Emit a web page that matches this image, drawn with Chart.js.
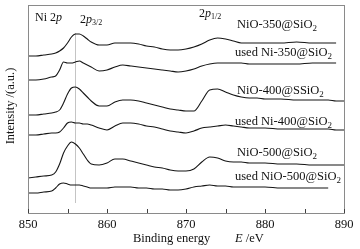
<!DOCTYPE html>
<html>
<head>
<meta charset="utf-8">
<script src="https://cdn.jsdelivr.net/npm/chart.js@4/dist/chart.umd.min.js"></script>
<style>
html,body{margin:0;padding:0;background:#fff;}
#wrap{width:360px;height:249px;}
</style>
</head>
<body>
<div id="wrap"><canvas id="c" width="360" height="249"></canvas></div>
<script>
// Binding energy (eV)
const energy = [850,851,852,853,853.5,854,854.5,855,855.5,856,856.5,857,857.5,858,
  859,860,861,862,863,864,865,866,867,868,869,870,871,872,873,874,875,876,877,878,879,880,
  882,884,886,888,889,890];

// Offset intensities (a.u.)
const nio350 = [157,157,158,159, 160,162,165,170,176,179,179,177,174,171,
  168,168,170,170,170,169,167,166,164,163,163,164,166,169,173,175,174,172,170,170,170,170,
  170,171,170,170, 170,null];
const usedNi350 = [133,133,134,136, 137,143,151,150,150,151,152,150,148,146,
  142,143,146,148,147,146,145,144,143,142,141,142,144,147,149,150,150,150,150,149,149,149,
  149,149,150,150, 150,null];
const nio400 = [98,98,99,100, 101,103,110,119,125,126,124,120,116,112,
  107,107,111,113,113,112,110,108,106,104,103,102,102,112,123,124,121,118,116,115,115,114,
  114,113,113,113, 112,112];
const usedNi400 = [78,78,79,80, 80,81,85,90,91,90,90,89,89,88,
  85,83,87,90,90,89,87,86,84,82,81,80,82,85,86,87,88,87,86,85,85,85,
  84,84,84,84, 83,83];
const nio500 = [35,36,37,38, 41,49,60,67,71,69,65,59,53,49,
  48,50,54,54,52,50,48,46,45,43,42,42,44,51,56,55,52,51,51,50,50,50,
  49,49,48,48, 48,48];
const usedNio500 = [20,20,21,22, 25,29,30,29,28,28,28,27,26,25,
  25,25,26,26,26,25,25,24,24,23,23,24,26,27,28,27,27,26,26,26,26,26,
  25,25,25,25, null,null];

const seriesNames = ["NiO-350@SiO2","used Ni-350@SiO2","NiO-400@SSiO2","used Ni-400@SiO2","NiO-500@SiO2","used NiO-500@SiO2"];
const seriesValues = [nio350, usedNi350, nio400, usedNi400, nio500, usedNio500];
const xTickValues = [850,860,870,880,890];
const refLineEnergy = 856;

const FONT = '"Liberation Serif", "Times New Roman", serif';

function drawRich(ctx, parts, x, y, size) {
  let cx = x;
  for (const p of parts) {
    const fs = p.sub ? Math.round(size * 0.68) : size;
    ctx.font = (p.i ? 'italic ' : '') + fs + 'px ' + FONT;
    ctx.fillText(p.t, cx, p.sub ? y + size * 0.28 : y);
    cx += ctx.measureText(p.t).width;
  }
  return cx;
}
function subParts(name) {
  // trailing "2" of SiO2 as subscript
  return [{t: name.slice(0, -1)}, {t: name.slice(-1), sub: 1}];
}

const labelPos = [
  {x: 237, y: 25}, {x: 235, y: 53}, {x: 237, y: 91},
  {x: 235, y: 122}, {x: 237, y: 153}, {x: 235, y: 177}
];

const decor = {
  id: 'decor',
  beforeDatasetsDraw(chart) {
    const {ctx, chartArea: a, scales: {x, y}} = chart;
    ctx.save();
    // reference line
    ctx.strokeStyle = '#c4c4c4';
    ctx.lineWidth = 1;
    const rx = Math.round(x.getPixelForValue(refLineEnergy)) + 0.5;
    ctx.beginPath();
    ctx.moveTo(rx, y.getPixelForValue(180));
    ctx.lineTo(rx, y.getPixelForValue(10));
    ctx.stroke();
    ctx.restore();
  },
  afterDraw(chart) {
    const {ctx, chartArea: a, scales: {x, y}} = chart;
    ctx.save();
    // frame
    ctx.strokeStyle = '#8a8a8a';
    ctx.lineWidth = 1;
    ctx.strokeRect(Math.round(a.left) + 0.5, Math.round(a.top) + 0.5,
      Math.round(a.right - a.left), Math.round(a.bottom - a.top));
    // bottom ticks (inside)
    ctx.strokeStyle = '#404040';
    for (let v = 850; v <= 890; v += 5) {
      const px = Math.round(x.getPixelForValue(v)) + 0.5;
      ctx.beginPath();
      ctx.moveTo(px, a.bottom);
      ctx.lineTo(px, a.bottom - 4);
      ctx.stroke();
    }
    ctx.fillStyle = '#111';
    ctx.textBaseline = 'middle';
    ctx.textAlign = 'left';
    // annotations
    drawRich(ctx, [{t: 'Ni 2'}, {t: 'p', i: 1}], 35, 18, 12);
    drawRich(ctx, [{t: '2'}, {t: 'p', i: 1}, {t: '3/2', sub: 1}], 80, 20, 12);
    drawRich(ctx, [{t: '2'}, {t: 'p', i: 1}, {t: '1/2', sub: 1}], 199, 14, 12);
    seriesNames.forEach((n, i) => drawRich(ctx, subParts(n), labelPos[i].x, labelPos[i].y, 12.5));
    // x axis title
    drawRich(ctx, [{t: 'Binding energy'}], 133, 239, 12.5);
    drawRich(ctx, [{t: 'E', i: 1}, {t: ' /eV'}], 235, 239, 12.5);
    // y axis title
    ctx.translate(11, 106);
    ctx.rotate(-Math.PI / 2);
    ctx.textAlign = 'center';
    ctx.font = '12.5px ' + FONT;
    ctx.fillText('Intensity /(a.u.)', 0, 0);
    ctx.restore();
  }
};

new Chart(document.getElementById('c'), {
  type: 'line',
  data: {
    labels: energy,
    datasets: seriesValues.map((vals, i) => ({
      label: seriesNames[i],
      data: energy.map((e, k) => ({x: e, y: vals[k]})),
      borderColor: '#151515',
      borderWidth: 1.1,
      pointRadius: 0,
      cubicInterpolationMode: 'monotone',
      fill: false,
      spanGaps: false
    }))
  },
  options: {
    responsive: false,
    animation: false,
    events: [],
    layout: {padding: {top: 5, right: 16, left: 0, bottom: 0}},
    plugins: {legend: {display: false}, tooltip: {enabled: false}, title: {display: false}},
    scales: {
      x: {
        type: 'linear', min: 850, max: 890,
        afterBuildTicks: s => { s.ticks = xTickValues.map(v => ({value: v})); },
        ticks: {font: {family: FONT, size: 12.5}, color: '#111', padding: 4, maxRotation: 0},
        grid: {display: false, drawTicks: false},
        border: {display: false},
        afterFit: s => { s.height = 36; }
      },
      y: {
        min: 0, max: 208,
        ticks: {display: false},
        grid: {display: false, drawTicks: false},
        border: {display: false},
        afterFit: s => { s.width = 28; }
      }
    }
  },
  plugins: [decor]
});
</script>
</body>
</html>
